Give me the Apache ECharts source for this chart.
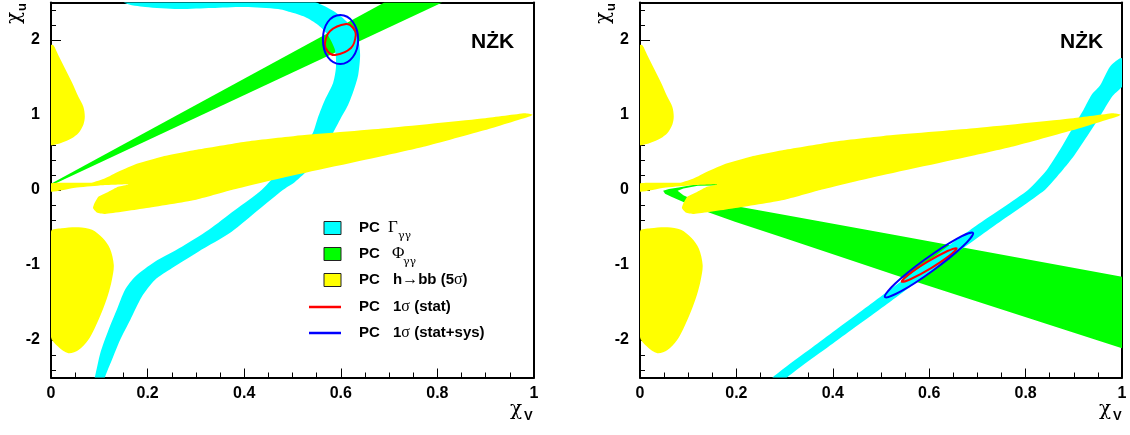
<!DOCTYPE html>
<html><head><meta charset="utf-8">
<script src="https://cdn.jsdelivr.net/npm/echarts@6/dist/echarts.min.js"></script>
<style>html,body{margin:0;padding:0;background:#fff}#c{width:1130px;height:435px}</style>
</head><body><div id="c"></div>
<script>
// ---------- tick labels ----------
const xTickValues = [0, 0.2, 0.4, 0.6, 0.8, 1];
const xTickLabels = ['0', '0.2', '0.4', '0.6', '0.8', '1'];
const yTickValues = [-2, -1, 0, 1, 2];
const yTickLabels = ['-2', '-1', '0', '1', '2'];

// ---------- contour outlines: [chi_V, chi_u] ----------
// h->bb (5 sigma), same in both panels
const hbbUpperLobe = [[0,1.93],[0.005,1.93],[0.015,1.80],[0.029,1.62],[0.043,1.44],[0.057,1.24],[0.067,1.11],[0.070,0.98],[0.067,0.87],[0.057,0.76],[0.043,0.69],[0.022,0.63],[0.005,0.60],[0,0.60]];
const hbbLowerLobe = [[0,-0.556],[0.022,-0.511],[0.057,-0.497],[0.085,-0.53],[0.107,-0.64],[0.122,-0.78],[0.13,-1.0],[0.126,-1.2],[0.118,-1.4],[0.105,-1.63],[0.09,-1.85],[0.077,-2.0],[0.057,-2.133],[0.036,-2.175],[0.015,-2.09],[0,-1.96]];
const hbbWedge = [[0,0.089],[0.084,0.098],[0.112,0.156],[0.139,0.244],[0.181,0.356],[0.229,0.444],[0.298,0.533],[0.402,0.644],[0.505,0.72],[0.692,0.822],[0.899,0.956],[0.981,1.022],[0.997,1.005],
  [0.992,0.985],[0.899,0.80],[0.774,0.58],[0.692,0.46],[0.484,0.17],[0.374,0.0],[0.298,-0.133],[0.195,-0.244],[0.112,-0.32],[0.095,-0.3],[0.087,-0.24],[0.09,-0.178],[0.098,-0.089],[0.119,-0.022],[0.139,0.044],[0.16,0.075],
  [0.10,0.06],[0.05,0.03],[0,-0.022]];

// left panel
const greenLeft = [[0,0.085],[0.69,2.5],[0.81,2.5],[0,0.06]];
const cyanLeft = [[0.122,2.667],[0.308,2.64],[0.495,2.6],[0.547,2.507],[0.588,2.373],[0.619,2.2],[0.636,2.0],[0.640,1.8],[0.636,1.533],[0.627,1.333],[0.615,1.133],[0.598,0.933],[0.584,0.76],[0.567,0.533],[0.536,0.293],[0.505,0.107],[0.480,0],[0.429,-0.267],[0.374,-0.556],[0.305,-0.822],[0.250,-1.044],[0.215,-1.2],[0.188,-1.423],[0.164,-1.733],[0.143,-2.0],[0.126,-2.267],[0.112,-2.49],[0.108,-2.6],
  [0.085,-2.6],[0.091,-2.49],[0.102,-2.178],[0.119,-1.867],[0.136,-1.6],[0.153,-1.333],[0.174,-1.156],[0.215,-0.956],[0.271,-0.756],[0.326,-0.533],[0.381,-0.267],[0.436,0],[0.474,0.267],[0.516,0.533],[0.542,0.76],[0.553,0.973],[0.567,1.2],[0.584,1.427],[0.590,1.64],[0.588,1.867],[0.573,2.067],[0.553,2.2],[0.526,2.307],[0.495,2.373],[0.470,2.413],[0.402,2.44],[0.333,2.427],[0.263,2.413],[0.195,2.44],[0.153,2.493],[0.133,2.667]];
const statLeft = [[0.611,2.213],[0.625,2.167],[0.631,2.067],[0.621,1.893],[0.588,1.80],[0.573,1.847],[0.567,1.947],[0.578,2.12]];
const sysLeft = [[0.599,2.333],[0.625,2.24],[0.636,2.007],[0.625,1.773],[0.599,1.68],[0.573,1.773],[0.563,2.007],[0.573,2.24]];

// right panel
const greenRight = [[0.048,-0.01],[0.06,0.015],[0.08,0.035],[0.128,0.09],[0.16,0.1],[0.16,0.06],[0.12,0.058],[0.09,0.02],[0.078,-0.01],[0.09,-0.07],[0.1,-0.1],[0.301,-0.333],[0.529,-0.6],[1.01,-1.17],[1.01,-2.13],[0.529,-1.133],[0.405,-0.867],[0.301,-0.644],[0.197,-0.422],[0.13,-0.27],[0.09,-0.16],[0.065,-0.09],[0.052,-0.05]];
const cyanRight = [[0.27,-2.6],[0.275,-2.5],[0.378,-2.0],[0.483,-1.5],[0.587,-1.0],[0.692,-0.5],[0.805,0],[0.844,0.267],[0.871,0.533],[0.899,0.844],[0.920,1.067],[0.937,1.27],[0.955,1.40],[0.975,1.644],[0.996,1.756],
  [1.01,1.75],[1.01,1.45],[0.98,1.25],[0.954,0.978],[0.927,0.711],[0.899,0.444],[0.871,0.222],[0.84,0],[0.73,-0.5],[0.622,-1.0],[0.517,-1.5],[0.41,-2.0],[0.305,-2.5],[0.30,-2.6]];
const statRight = [[0.657,-0.777],[0.643,-0.872],[0.604,-1.041],[0.562,-1.187],[0.543,-1.223],[0.557,-1.128],[0.596,-0.959],[0.638,-0.813]];
const sysRight = [[0.691,-0.573],[0.670,-0.751],[0.608,-1.073],[0.541,-1.353],[0.508,-1.427],[0.529,-1.249],[0.591,-0.927],[0.658,-0.647]];

// ---------- styles ----------
const CYAN = '#00ffff', GREEN = '#00ff00', YELLOW = '#ffff00', RED = '#ff0000', BLUE = '#0000ff';
const SANS = '"Liberation Sans", Arial, sans-serif';
const SERIF = '"Liberation Serif", "DejaVu Serif", serif';
const GREEK = '"DejaVu Serif", serif';

function area(gi, name, pts, fill, smooth, z) {
  return {
    type: 'custom', name: name, xAxisIndex: gi * 2, yAxisIndex: gi * 3, clip: true, z: z, silent: true,
    data: pts,
    renderItem: function (params, api) {
      if (params.dataIndex !== 0) return null;
      return { type: 'polygon', shape: { points: pts.map(function (p) { return api.coord(p); }), smooth: smooth }, style: { fill: fill, stroke: null } };
    }
  };
}
function ring(gi, name, pts, stroke, z) {
  return {
    type: 'custom', name: name, xAxisIndex: gi * 2, yAxisIndex: gi * 3, clip: true, z: z, silent: true,
    data: pts,
    renderItem: function (params, api) {
      if (params.dataIndex !== 0) return null;
      return { type: 'polygon', shape: { points: pts.map(function (p) { return api.coord(p); }), smooth: 0.375 }, style: { fill: 'none', stroke: stroke, lineWidth: 2 } };
    }
  };
}

function xMain(gi) {
  return {
    type: 'value', gridIndex: gi, position: 'bottom', min: 0, max: 1, interval: 0.2,
    axisLine: { show: true, onZero: false, lineStyle: { color: '#000', width: 2 } },
    axisTick: { show: true, inside: true, length: 9, lineStyle: { color: '#000', width: 1 } },
    minorTick: { show: true, splitNumber: 4, length: 5, lineStyle: { color: '#000', width: 1 } },
    splitLine: { show: false },
    axisLabel: { margin: 8, color: '#000', fontFamily: SANS, fontWeight: 'bold', fontSize: 16,
      formatter: function (v) { const i = xTickValues.findIndex(function (t) { return Math.abs(t - v) < 1e-9; }); return i < 0 ? '' : xTickLabels[i]; } }
  };
}
function xTop(gi) {
  return { type: 'value', gridIndex: gi, position: 'top', min: 0, max: 1,
    axisLine: { show: true, onZero: false, lineStyle: { color: '#000', width: 2 } },
    axisTick: { show: false }, axisLabel: { show: false }, splitLine: { show: false } };
}
function yMajor(gi) {
  return {
    type: 'value', gridIndex: gi, position: 'left', min: -2.5, max: 2.5, minInterval: 1, maxInterval: 1,
    axisLine: { show: true, onZero: false, lineStyle: { color: '#000', width: 2 } },
    axisTick: { show: true, inside: true, length: 10, lineStyle: { color: '#000', width: 1 } },
    splitLine: { show: false },
    axisLabel: { margin: 11, color: '#000', fontFamily: SANS, fontWeight: 'bold', fontSize: 16, showMinLabel: false, showMaxLabel: false,
      formatter: function (v) { const i = yTickValues.findIndex(function (t) { return Math.abs(t - v) < 1e-9; }); return i < 0 ? '' : yTickLabels[i]; } }
  };
}
function yMinor(gi) {
  return {
    type: 'value', gridIndex: gi, position: 'left', min: -2.5, max: 2.5, minInterval: 0.2, maxInterval: 0.2,
    axisLine: { show: false }, axisLabel: { show: false }, splitLine: { show: false },
    axisTick: { show: true, inside: true, length: 5, lineStyle: { color: '#000', width: 1 } }
  };
}
function yRight(gi) {
  return { type: 'value', gridIndex: gi, position: 'right', min: -2.5, max: 2.5,
    axisLine: { show: true, onZero: false, lineStyle: { color: '#000', width: 2 } },
    axisTick: { show: false }, axisLabel: { show: false }, splitLine: { show: false } };
}

function txt(x, y, text, font, extra) {
  const st = Object.assign({ text: text, font: font, fill: '#000', align: 'left', verticalAlign: 'middle' }, extra || {});
  return { type: 'text', x: x, y: y, z: 100, silent: true, style: st };
}
function rot(x, y, text, font) {
  return { type: 'text', x: x, y: y, rotation: Math.PI / 2, z: 100, silent: true,
    style: { text: text, font: font, fill: '#000', align: 'left', verticalAlign: 'middle' } };
}
const rich = {
  s: { fontFamily: SANS, fontWeight: 'bold', fontSize: 15, fill: '#000' },
  g: { fontFamily: SERIF, fontSize: 16, fill: '#000' }
};
function axisNames(dx) {
  return [
    txt(510 + dx, 410, 'χ', '20px ' + GREEK),
    txt(524 + dx, 416, 'V', 'bold 13px ' + SANS),
    rot(15 + dx, 24, 'χ', '20px ' + GREEK),
    rot(22 + dx, 11, 'u', 'bold 13px ' + SANS),
    txt(471 + dx, 42.5, 'NŻK', 'bold 21px ' + SANS)
  ];
}
const legendGraphics = [
  { type: 'rect', shape: { x: 324, y: 221.5, width: 17, height: 13 }, style: { fill: CYAN, stroke: '#222', lineWidth: 1 }, z: 100 },
  { type: 'rect', shape: { x: 324, y: 247.5, width: 17, height: 13 }, style: { fill: GREEN, stroke: '#222', lineWidth: 1 }, z: 100 },
  { type: 'rect', shape: { x: 324, y: 273.5, width: 17, height: 13 }, style: { fill: YELLOW, stroke: '#222', lineWidth: 1 }, z: 100 },
  { type: 'line', shape: { x1: 309, y1: 307, x2: 341, y2: 307 }, style: { stroke: RED, lineWidth: 2.5 }, z: 100 },
  { type: 'line', shape: { x1: 309, y1: 333, x2: 341, y2: 333 }, style: { stroke: BLUE, lineWidth: 2.5 }, z: 100 },
  txt(359, 228, 'PC', 'bold 15px ' + SANS), txt(388, 228, 'Γ', '17px ' + SERIF), txt(398, 236, 'γγ', '11px ' + GREEK),
  txt(359, 254, 'PC', 'bold 15px ' + SANS), txt(392, 254, 'Φ', '17px ' + SERIF), txt(403, 262, 'γγ', '11px ' + GREEK),
  txt(359, 280, 'PC', 'bold 15px ' + SANS),
  { type: 'text', x: 393, y: 280, z: 100, silent: true, style: { text: '{s|h}{g|→}{s|bb (5}{g|σ}{s|)}', rich: rich, align: 'left', verticalAlign: 'middle' } },
  txt(359, 307, 'PC', 'bold 15px ' + SANS),
  { type: 'text', x: 393, y: 307, z: 100, silent: true, style: { text: '{s|1}{g|σ}{s| (stat)}', rich: rich, align: 'left', verticalAlign: 'middle' } },
  txt(359, 333, 'PC', 'bold 15px ' + SANS),
  { type: 'text', x: 393, y: 333, z: 100, silent: true, style: { text: '{s|1}{g|σ}{s| (stat+sys)}', rich: rich, align: 'left', verticalAlign: 'middle' } }
];

const chart = echarts.init(document.getElementById('c'), null, { renderer: 'canvas', width: 1130, height: 435 });
chart.setOption({
  animation: false,
  backgroundColor: '#fff',
  grid: [
    { left: 51, top: 2.5, width: 483, height: 375, containLabel: false },
    { left: 640, top: 2.5, width: 482, height: 375, containLabel: false }
  ],
  xAxis: [xMain(0), xTop(0), xMain(1), xTop(1)],
  yAxis: [yMajor(0), yMinor(0), yRight(0), yMajor(1), yMinor(1), yRight(1)],
  series: [
    area(0, 'PC Φγγ', greenLeft, GREEN, 0, 1),
    area(0, 'PC Γγγ', cyanLeft, CYAN, 0.25, 2),
    area(0, 'PC h→bb (5σ)', hbbWedge, YELLOW, 0.15, 3),
    area(0, 'PC h→bb (5σ) a', hbbUpperLobe, YELLOW, 0.3, 3),
    area(0, 'PC h→bb (5σ) b', hbbLowerLobe, YELLOW, 0.3, 3),
    ring(0, 'PC 1σ (stat)', statLeft, RED, 4),
    ring(0, 'PC 1σ (stat+sys)', sysLeft, BLUE, 4),
    area(1, 'PC Φγγ R', greenRight, GREEN, 0, 1),
    area(1, 'PC Γγγ R', cyanRight, CYAN, 0.2, 2),
    area(1, 'PC h→bb R', hbbWedge, YELLOW, 0.15, 3),
    area(1, 'PC h→bb R a', hbbUpperLobe, YELLOW, 0.3, 3),
    area(1, 'PC h→bb R b', hbbLowerLobe, YELLOW, 0.3, 3),
    ring(1, 'PC 1σ (stat) R', statRight, RED, 4),
    ring(1, 'PC 1σ (stat+sys) R', sysRight, BLUE, 4)
  ],
  graphic: axisNames(0).concat(axisNames(589)).concat(legendGraphics)
});
</script>
</body></html>
